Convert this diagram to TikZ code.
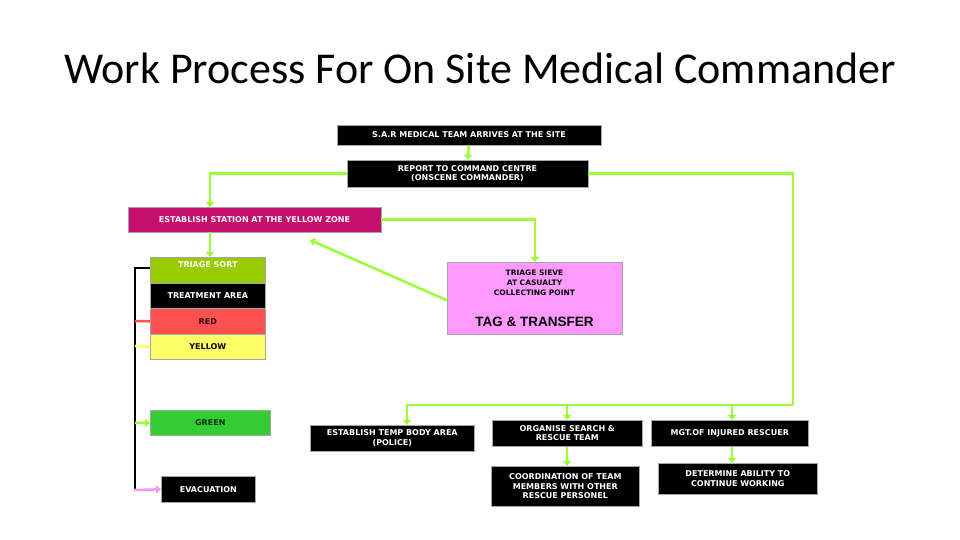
\documentclass[tikz,border=0pt]{standalone}
\usepackage{fontspec}
\setmainfont{Liberation Sans}
\newfontfamily\titlefont{Carlito}
\newfontfamily\boxfont{DejaVu Sans}
\usetikzlibrary{arrows.meta}
\definecolor{lg}{HTML}{99FF33}
\definecolor{mag}{HTML}{C4106C}
\definecolor{tsort}{HTML}{99CC00}
\definecolor{redb}{HTML}{FF5050}
\definecolor{yelb}{HTML}{FFFF66}
\definecolor{sieve}{HTML}{FF99FF}
\definecolor{greenb}{HTML}{33CC33}
\definecolor{pinkl}{HTML}{EE99EE}
\begin{document}
\begin{tikzpicture}[x=1pt,y=-1pt,
  bx/.style={draw=gray!70,line width=0.6pt,inner sep=0pt,align=center,font=\boxfont\fontsize{8}{9.5}\selectfont\bfseries},
  blk/.style={bx,fill=black,text=white},
  gl/.style={draw=lg,line width=2.5pt},
  ga/.style={gl,-{Triangle[length=5pt,width=8pt]}}]
\useasboundingbox (0,0) rectangle (960,540);
\node[font=\titlefont\fontsize{44}{50}\selectfont] (title) at (480,68) {Work Process For On Site Medical Commander};
\node[blk,minimum width=264,minimum height=20] (sar) at (469,135) {S.A.R MEDICAL TEAM ARRIVES AT THE SITE};
\node[blk,minimum width=241,minimum height=27] (rep) at (467.5,173.5) {REPORT TO COMMAND CENTRE\\(ONSCENE COMMANDER)};
\node[bx,fill=mag,text=white,minimum width=253,minimum height=25] (st) at (254.5,219.5) {ESTABLISH STATION AT THE YELLOW ZONE};
\node[bx,fill=tsort,text=white,minimum width=115,minimum height=26,anchor=north west,text depth=12pt] (ts) at (150,257) {TRIAGE SORT};
\node[blk,minimum width=115,minimum height=25,anchor=north west] (ta) at (150,283) {TREATMENT AREA};
\node[bx,fill=redb,text=black!80!red,minimum width=115,minimum height=26,anchor=north west] (red) at (150,308) {RED};
\node[bx,fill=yelb,text=black,minimum width=115,minimum height=25,anchor=north west] (yel) at (150,334) {YELLOW};
\node[bx,fill=sieve,text=black,minimum width=175,minimum height=72,anchor=north west] (sv) at (447,262) {};
\node[font=\boxfont\fontsize{7.5}{10}\selectfont\bfseries,align=center] (svt) at (534.5,283) {TRIAGE SIEVE\\AT CASUALTY\\COLLECTING POINT};
\node[font=\fontsize{13.5}{15}\selectfont\bfseries] (svt2) at (534.5,322) {TAG \& TRANSFER};
\node[bx,fill=greenb,text=black!80!green,minimum width=120,minimum height=25,anchor=north west] (gr) at (150,410) {GREEN};
\node[blk,minimum width=94,minimum height=26,anchor=north west] (ev) at (161,476) {EVACUATION};
\node[blk,minimum width=164,minimum height=26,anchor=north west] (tb) at (310,425) {ESTABLISH TEMP BODY AREA\\(POLICE)};
\node[blk,minimum width=150,minimum height=26,anchor=north west] (org) at (492,420) {ORGANISE SEARCH \&\\RESCUE TEAM};
\node[blk,minimum width=157,minimum height=26,anchor=north west] (mgt) at (651,420) {MGT.OF INJURED RESCUER};
\node[blk,minimum width=148,minimum height=40,anchor=north west] (co) at (491,466) {COORDINATION OF TEAM\\MEMBERS WITH OTHER\\RESCUE PERSONEL};
\node[blk,minimum width=159,minimum height=31,anchor=north west] (det) at (658,463) {DETERMINE ABILITY TO\\CONTINUE WORKING};
\coordinate (j1) at (793,405);
\coordinate (tgt) at (310,240);
\draw[ga] (sar.south) -- (rep.north);
\draw[ga] (rep.west) -| (210,207);
\draw[ga] (210,232) -- (ts.north -| 210,0);
\draw[ga] (st.east) -| (sv.north);
\draw[ga] (sv.west) ++(0,2) -- (tgt);
\draw[gl] (rep.east) -| (j1);
\draw[ga] (j1) -| (tb.north -| 407,0);
\draw[ga] (567,405) -- (org.north -| 567,0);
\draw[ga] (732,405) -- (mgt.north -| 732,0);
\draw[ga] (org.south -| 567,0) -- (co.north -| 567,0);
\draw[ga] (mgt.south -| 732,0) -- (det.north -| 732,0);
\draw[line width=2.5pt] (ts.west |- 0,268) -| (135,490);
\draw[redb,line width=2.5pt] (135,321) -- (red.west);
\draw[yelb,line width=2.5pt] (135,346) -- (yel.west);
\draw[ga] (135,423) -- (gr.west);
\draw[pinkl,line width=2.5pt,-{Triangle[length=5pt,width=8pt]}] (134,490) -- (ev.west);
\end{tikzpicture}
\end{document}
